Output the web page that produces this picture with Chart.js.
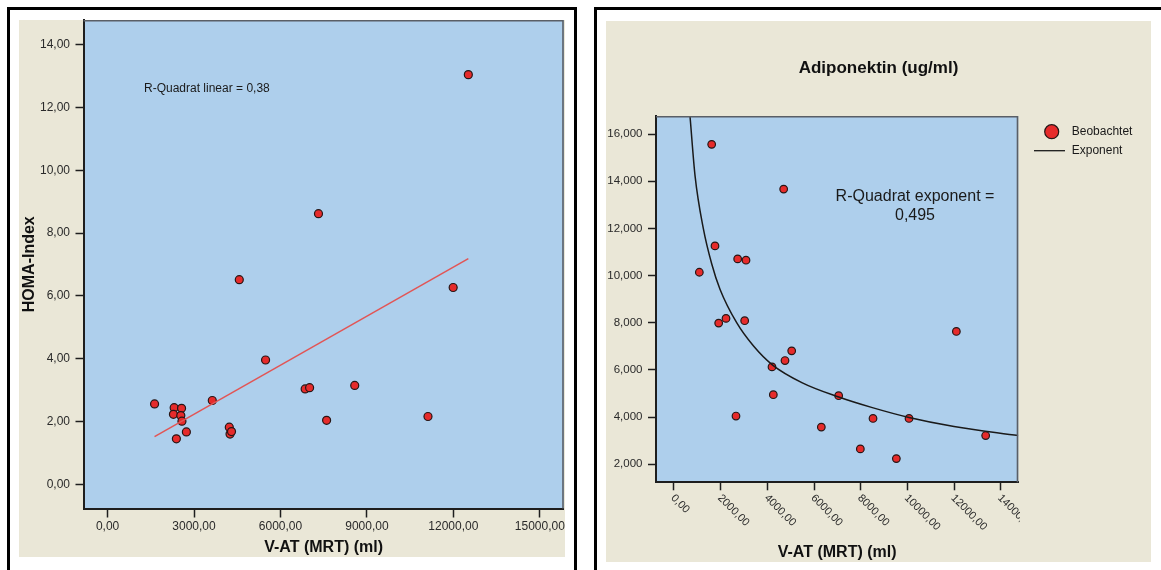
<!DOCTYPE html>
<html>
<head>
<meta charset="utf-8">
<script src="https://cdn.jsdelivr.net/npm/chart.js@4.4.1/dist/chart.umd.min.js"></script>
<style>
  html, body { margin:0; padding:0; background:#ffffff; width:1161px; height:570px; overflow:hidden; position:relative; }
  .frame { position:absolute; border:3px solid #000; box-sizing:border-box; }
  .bg { position:absolute; background:#EAE7D7; }
  canvas { position:absolute; }
</style>
</head>
<body>
<div class="frame" style="left:7px;top:7px;width:570px;height:640px"></div>
<div class="frame" style="left:594px;top:7px;width:640px;height:640px"></div>
<div class="bg" style="left:19px;top:20px;width:546px;height:537px"></div>
<div class="bg" style="left:606px;top:21px;width:545px;height:541px"></div>
<canvas id="c1" width="550" height="544" style="left:19px;top:14px;width:550px;height:544px"></canvas>
<canvas id="c2" width="545" height="541" style="left:606px;top:21px;width:545px;height:541px"></canvas>
<script>
// ---------- data: left chart (HOMA-Index vs V-AT) ----------
const vatLeft  = [1631, 2311, 2568, 2286, 2542, 2581, 2388, 2735, 3634, 4224, 4250, 4301, 5483, 6857, 7011, 7601, 8577, 11119, 11993, 4571, 7319, 12519];
const homaIndex = [2.56, 2.44, 2.42, 2.23, 2.19, 2.01, 1.45, 1.67, 2.67, 1.82, 1.60, 1.68, 3.96, 3.04, 3.08, 2.04, 3.15, 2.16, 6.27, 6.52, 8.62, 13.05];
const linFitX = [1631, 12519];
const linFitY = [1.52, 7.19];
const xTicksLeft  = [0, 3000, 6000, 9000, 12000, 15000];
const xLabelsLeft = ['0,00', '3000,00', '6000,00', '9000,00', '12000,00', '15000,00'];
const yTicksLeft  = [0, 2, 4, 6, 8, 10, 12, 14];
const yLabelsLeft = ['0,00', '2,00', '4,00', '6,00', '8,00', '10,00', '12,00', '14,00'];

// ---------- data: right chart (Adiponektin vs V-AT) ----------
const vatRight = [1615, 4700, 1757, 2729, 3086, 1086, 1915, 2229, 3029, 12101, 5044, 4757, 4200, 4257, 2657, 7057, 6314, 8529, 10072, 7986, 9529, 13357];
const adiponektin = [15563, 13665, 11257, 10706, 10650, 10140, 7983, 8182, 8085, 7629, 6808, 6395, 6127, 4949, 4042, 4906, 3574, 3940, 3940, 2651, 2238, 3217];
const expFitX = [686, 900, 1256, 1615, 1971, 2686, 3400, 4200, 5500, 7057, 8500, 10072, 12000, 14757];
const expFitY = [16764, 14250, 12000, 10500, 9420, 8000, 7020, 6225, 5450, 4850, 4400, 3983, 3600, 3217];
const xTicksRight  = [0, 2000, 4000, 6000, 8000, 10000, 12000, 14000];
const xLabelsRight = ['0,00', '2000,00', '4000,00', '6000,00', '8000,00', '10000,00', '12000,00', '14000,00'];
const yTicksRight  = [2000, 4000, 6000, 8000, 10000, 12000, 14000, 16000];
const yLabelsRight = ['2,000', '4,000', '6,000', '8,000', '10,000', '12,000', '14,000', '16,000'];

// ---------- styling ----------
const FONT = '"Liberation Sans", Arial, Helvetica, sans-serif';
const PLOT_BLUE = '#AECFEC';
const AXIS = '#1e1e1e';
const TICKTXT = '#2a2a2a';
const POINT_RED = '#E62B2B';
const POINT_EDGE = '#261616';

const plotFrame = {
  id: 'plotFrame',
  beforeDraw(chart) {
    const a = chart.chartArea, ctx = chart.ctx;
    ctx.save();
    ctx.fillStyle = PLOT_BLUE;
    ctx.fillRect(a.left, a.top, a.right - a.left, a.bottom - a.top);
    ctx.restore();
  },
  afterDraw(chart) {
    const a = chart.chartArea, ctx = chart.ctx;
    ctx.save();
    ctx.strokeStyle = '#5a5f66';
    ctx.lineWidth = 1.6;
    ctx.beginPath();
    ctx.moveTo(a.left, a.top + 0.8);
    ctx.lineTo(a.right - 0.8, a.top + 0.8);
    ctx.lineTo(a.right - 0.8, a.bottom);
    ctx.stroke();
    ctx.restore();
  }
};

function fixedAxis(size, horizontal) {
  return function (s) {
    if (horizontal) { s.height = size; s.paddingLeft = 0; s.paddingRight = 0; }
    else { s.width = size; s.paddingTop = 0; s.paddingBottom = 0; }
  };
}

// ---------- left chart ----------
const leftNote = {
  id: 'leftNote',
  afterDatasetsDraw(chart) {
    const a = chart.chartArea, ctx = chart.ctx;
    ctx.save();
    ctx.font = '12px ' + FONT;
    ctx.fillStyle = '#1a1a1a';
    ctx.textAlign = 'left';
    ctx.textBaseline = 'middle';
    ctx.fillText('R-Quadrat linear = 0,38', a.left + 60.5, a.top + 69);
    ctx.restore();
  }
};

new Chart(document.getElementById('c1'), {
  type: 'scatter',
  data: {
    datasets: [
      {
        type: 'line', label: 'Linear',
        data: linFitX.map((x, i) => ({ x: x, y: linFitY[i] })),
        borderColor: '#E25555', borderWidth: 1.5, pointRadius: 0, fill: false, tension: 0, order: 0
      },
      {
        type: 'scatter', label: 'Beobachtet',
        data: vatLeft.map((x, i) => ({ x: x, y: homaIndex[i] })),
        backgroundColor: POINT_RED, borderColor: POINT_EDGE, borderWidth: 1.2, pointRadius: 4, order: 1
      }
    ]
  },
  options: {
    responsive: false, animation: false, events: [],
    layout: { padding: { left: 0, top: 6, right: 5, bottom: 0 } },
    plugins: { legend: { display: false }, tooltip: { enabled: false }, title: { display: false } },
    scales: {
      x: {
        type: 'linear', min: -835, max: 15832,
        afterBuildTicks: s => { s.ticks = xTicksLeft.map(v => ({ value: v })); },
        afterFit: fixedAxis(49.5, true),
        grid: { drawOnChartArea: false, drawTicks: true, tickLength: 9, tickColor: AXIS, tickWidth: 1.5 },
        border: { display: true, color: AXIS, width: 2 },
        ticks: { autoSkip: false, maxRotation: 0, minRotation: 0, padding: 2, color: TICKTXT,
                 font: { size: 12, family: FONT }, callback: (v, i) => xLabelsLeft[i] },
        title: { display: true, text: 'V-AT (MRT) (ml)', color: '#111', font: { size: 16, weight: 'bold', family: FONT },
                 padding: { top: 0, bottom: 0.4 } }
      },
      y: {
        type: 'linear', min: -0.77, max: 14.79,
        afterBuildTicks: s => { s.ticks = yTicksLeft.map(v => ({ value: v })); },
        afterFit: fixedAxis(64.5, false),
        grid: { drawOnChartArea: false, drawTicks: true, tickLength: 8, tickColor: AXIS, tickWidth: 1.5 },
        border: { display: true, color: AXIS, width: 2 },
        ticks: { autoSkip: false, padding: 5.5, color: TICKTXT,
                 font: { size: 12, family: FONT }, callback: (v, i) => yLabelsLeft[i] },
        title: { display: true, text: 'HOMA-Index', color: '#111', font: { size: 16, weight: 'bold', family: FONT },
                 padding: { top: 1.4, bottom: 0 } }
      }
    }
  },
  plugins: [plotFrame, leftNote]
});

// ---------- right chart ----------
const rightExtras = {
  id: 'rightExtras',
  afterDatasetsDraw(chart) {
    const a = chart.chartArea, ctx = chart.ctx;
    ctx.save();
    ctx.font = '16px ' + FONT;
    ctx.fillStyle = '#1a1a1a';
    ctx.textAlign = 'center';
    ctx.textBaseline = 'middle';
    ctx.fillText('R-Quadrat exponent =', a.left + 259, a.top + 81);
    ctx.fillText('0,495', a.left + 259, a.top + 99.5);
    ctx.restore();
  },
  afterDraw(chart) {
    const a = chart.chartArea, ctx = chart.ctx, s = chart.scales.x;
    // rotated x tick labels, clipped at the plot's right edge
    ctx.save();
    ctx.beginPath();
    ctx.rect(0, a.bottom, a.right + 1.7, chart.height - a.bottom);
    ctx.clip();
    ctx.font = '11px ' + FONT;
    ctx.fillStyle = TICKTXT;
    ctx.textAlign = 'left';
    ctx.textBaseline = 'middle';
    xTicksRight.forEach((v, i) => {
      const px = s.getPixelForValue(v);
      ctx.save();
      ctx.translate(px - 1.3, a.bottom + 14);
      ctx.rotate(Math.PI / 4);
      ctx.fillText(xLabelsRight[i], 0, 0);
      ctx.restore();
    });
    ctx.restore();

    // legend
    const ds = chart.data.datasets;
    const lx = a.right, ly = a.top;
    ctx.save();
    ctx.fillStyle = POINT_RED;
    ctx.strokeStyle = POINT_EDGE;
    ctx.lineWidth = 1.2;
    ctx.beginPath();
    ctx.arc(lx + 33.4, ly + 15.7, 7, 0, Math.PI * 2);
    ctx.fill();
    ctx.stroke();
    ctx.strokeStyle = '#1a1a1a';
    ctx.lineWidth = 1.3;
    ctx.beginPath();
    ctx.moveTo(lx + 15.7, ly + 34.7);
    ctx.lineTo(lx + 46.7, ly + 34.7);
    ctx.stroke();
    ctx.font = '12px ' + FONT;
    ctx.fillStyle = '#1a1a1a';
    ctx.textAlign = 'left';
    ctx.textBaseline = 'middle';
    ctx.fillText(ds[1].label, lx + 53.4, ly + 15.7);
    ctx.fillText(ds[0].label, lx + 53.4, ly + 34.7);
    ctx.restore();
  }
};

new Chart(document.getElementById('c2'), {
  type: 'scatter',
  data: {
    datasets: [
      {
        type: 'line', label: 'Exponent',
        data: expFitX.map((x, i) => ({ x: x, y: expFitY[i] })),
        borderColor: '#1a1a1a', borderWidth: 1.5, pointRadius: 0, fill: false,
        cubicInterpolationMode: 'monotone', order: 0
      },
      {
        type: 'scatter', label: 'Beobachtet',
        data: vatRight.map((x, i) => ({ x: x, y: adiponektin[i] })),
        backgroundColor: POINT_RED, borderColor: POINT_EDGE, borderWidth: 1.2, pointRadius: 3.8, order: 1
      }
    ]
  },
  options: {
    responsive: false, animation: false, events: [],
    layout: { padding: 0 },
    plugins: {
      legend: { display: false }, tooltip: { enabled: false },
      title: { display: true, text: 'Adiponektin (ug/ml)', color: '#111',
               font: { size: 17, weight: 'bold', family: FONT }, padding: { top: 37, bottom: 37.6 } }
    },
    scales: {
      x: {
        type: 'linear', min: -771, max: 14755,
        afterBuildTicks: s => { s.ticks = xTicksRight.map(v => ({ value: v })); },
        afterFit: fixedAxis(79.7, true),
        grid: { drawOnChartArea: false, drawTicks: true, tickLength: 8, tickColor: AXIS, tickWidth: 1.5 },
        border: { display: true, color: AXIS, width: 2 },
        ticks: { display: false },
        title: { display: true, text: 'V-AT (MRT) (ml)', color: '#111', font: { size: 16, weight: 'bold', family: FONT },
                 padding: { top: 0, bottom: 0 } }
      },
      y: {
        type: 'linear', min: 1234, max: 16764,
        afterBuildTicks: s => { s.ticks = yTicksRight.map(v => ({ value: v })); },
        afterFit: fixedAxis(50, false),
        grid: { drawOnChartArea: false, drawTicks: true, tickLength: 8, tickColor: AXIS, tickWidth: 1.5 },
        border: { display: true, color: AXIS, width: 2 },
        ticks: { autoSkip: false, padding: 5.5, color: TICKTXT,
                 font: { size: 11.5, family: FONT }, callback: (v, i) => yLabelsRight[i] }
      },
      legendSpace: {
        type: 'linear', position: 'right', display: true,
        afterFit: fixedAxis(132.7, false),
        grid: { display: false, drawTicks: false }, border: { display: false },
        ticks: { display: false }, title: { display: false }
      }
    }
  },
  plugins: [plotFrame, rightExtras]
});
</script>
</body>
</html>
